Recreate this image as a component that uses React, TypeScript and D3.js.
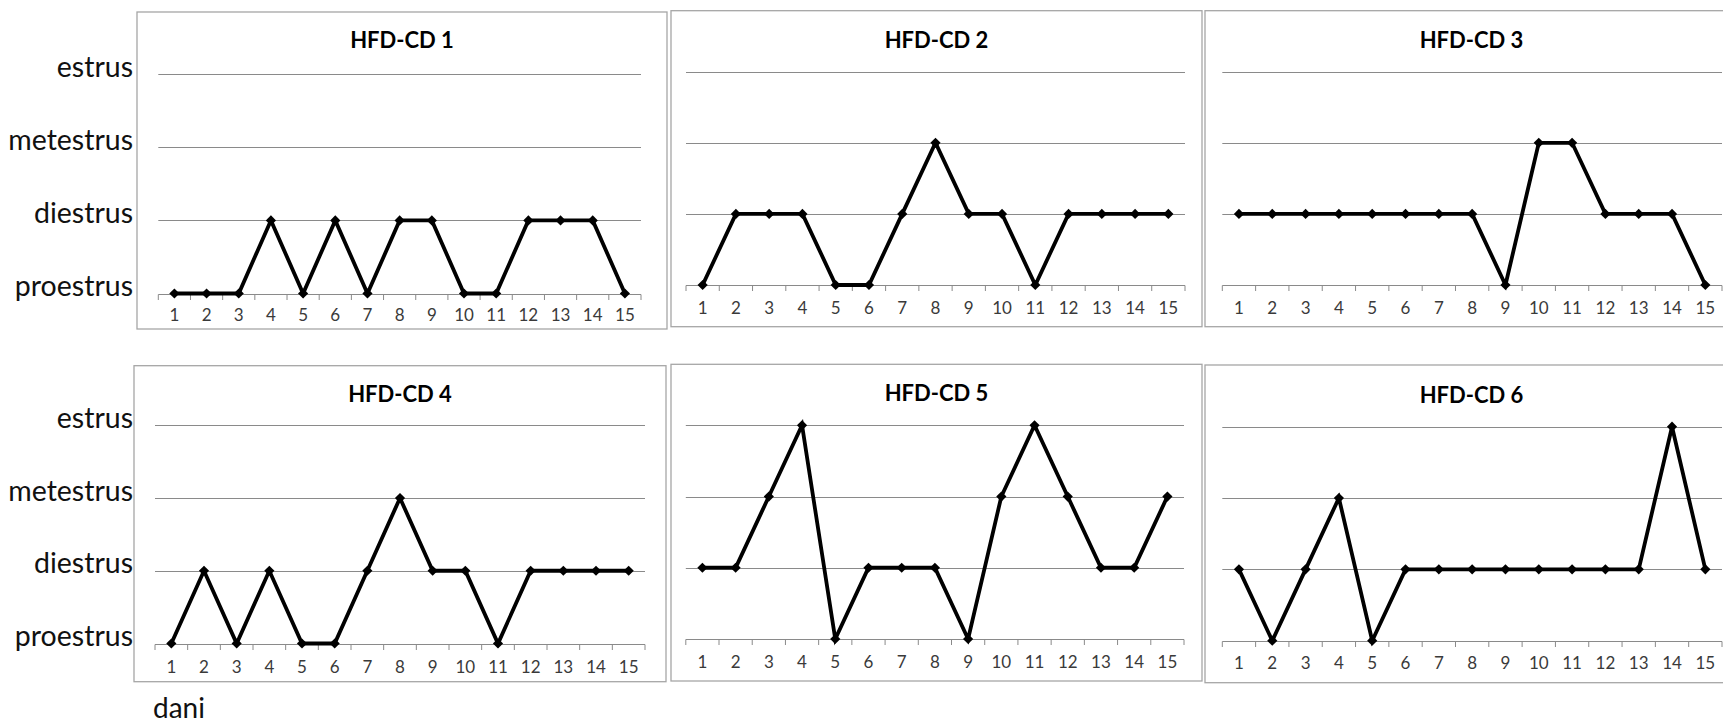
import React, { useEffect, useRef } from 'react';
import * as d3 from 'd3';

const WIDTH = 1723;
const HEIGHT = 725;

// estrous cycle stages, bottom to top
const stages = ['proestrus', 'diestrus', 'metestrus', 'estrus'];
const days = ['1', '2', '3', '4', '5', '6', '7', '8', '9', '10', '11', '12', '13', '14', '15'];
const titles = ['HFD-CD 1', 'HFD-CD 2', 'HFD-CD 3', 'HFD-CD 4', 'HFD-CD 5', 'HFD-CD 6'];

// stage index per day (0 proestrus, 1 diestrus, 2 metestrus, 3 estrus)
const hfdCd1 = [0, 0, 0, 1, 0, 1, 0, 1, 1, 0, 0, 1, 1, 1, 0];
const hfdCd2 = [0, 1, 1, 1, 0, 0, 1, 2, 1, 1, 0, 1, 1, 1, 1];
const hfdCd3 = [1, 1, 1, 1, 1, 1, 1, 1, 0, 2, 2, 1, 1, 1, 0];
const hfdCd4 = [0, 1, 0, 1, 0, 0, 1, 2, 1, 1, 0, 1, 1, 1, 1];
const hfdCd5 = [1, 1, 2, 3, 0, 1, 1, 1, 0, 2, 3, 2, 1, 1, 2];
const hfdCd6 = [1, 0, 1, 2, 0, 1, 1, 1, 1, 1, 1, 1, 1, 3, 1];

const series = [hfdCd1, hfdCd2, hfdCd3, hfdCd4, hfdCd5, hfdCd6];
const xLabel = 'dani';

// panel frames, as laid out in the figure
const PANELS = [
  { box: [137, 12, 667, 329], px: [158.3, 641], py: [74.3, 293.5], titleY: 48, tickY: 315, yLabels: true },
  { box: [671, 10.7, 1202, 326.7], px: [686, 1185], py: [71.7, 285], titleY: 48.3, tickY: 308.3, yLabels: false },
  { box: [1205, 10.7, 1738, 326.7], px: [1222.3, 1722], py: [71.7, 285], titleY: 48.3, tickY: 308.3, yLabels: false },
  { box: [134, 365.7, 666, 681.7], px: [155, 645], py: [425.3, 643.5], titleY: 401.7, tickY: 666.7, yLabels: true },
  { box: [671, 364.3, 1202, 681], px: [685.8, 1184], py: [425.3, 639], titleY: 400.7, tickY: 661.7, yLabels: false },
  { box: [1205, 365, 1738, 682.7], px: [1222.3, 1722], py: [426.7, 640.7], titleY: 402.7, tickY: 663.3, yLabels: false },
];

const FONT = 'Lato, "Open Sans", sans-serif';
const GRID = '#8a8a8a';

const App: React.FC = () => {
  const svgRef = useRef<SVGSVGElement>(null);

  useEffect(() => {
    if (!svgRef.current) return;
    const svg = d3.select(svgRef.current);
    svg.selectAll('*').remove();

    svg.append('rect').attr('width', WIDTH).attr('height', HEIGHT).attr('fill', '#fff');

    PANELS.forEach((p, i) => {
      const values = series[i];
      const [bx0, by0, bx1, by1] = p.box;
      const g = svg.append('g');

      // panel frame
      g.append('rect')
        .attr('x', bx0)
        .attr('y', by0)
        .attr('width', bx1 - bx0)
        .attr('height', by1 - by0)
        .attr('fill', '#fff')
        .attr('stroke', '#a6a6a6')
        .attr('stroke-width', 1.3);

      const x = d3.scaleBand<string>().domain(days).range(p.px);
      const y = d3.scaleLinear().domain([0, stages.length - 1]).range([p.py[1], p.py[0]]);

      // gridlines (the bottom one is the axis line)
      stages.forEach((s, k) => {
        g.append('line')
          .attr('x1', p.px[0])
          .attr('x2', p.px[1])
          .attr('y1', Math.round(y(k)) + 0.5)
          .attr('y2', Math.round(y(k)) + 0.5)
          .attr('stroke', GRID)
          .attr('stroke-width', 1);
      });

      // tick marks between categories
      const bounds = days.map(d => x(d)!).concat([p.px[1]]);
      bounds.forEach(bx => {
        g.append('line')
          .attr('x1', bx)
          .attr('x2', bx)
          .attr('y1', Math.round(y(0)) + 0.5)
          .attr('y2', Math.round(y(0)) + 6)
          .attr('stroke', GRID)
          .attr('stroke-width', 1);
      });

      // day labels
      const axis = d3.axisBottom(x).tickSize(0).tickPadding(0);
      const ax = g.append('g')
        .attr('transform', `translate(0, ${p.tickY})`)
        .call(axis);
      ax.select('.domain').remove();
      ax.selectAll('text')
        .attr('y', 0)
        .attr('dy', '0.36em')
        .attr('fill', '#3a3a3a')
        .style('font-family', FONT)
        .style('font-size', '17px');

      // title
      g.append('text')
        .attr('x', (bx0 + bx1) / 2)
        .attr('y', p.titleY)
        .attr('text-anchor', 'middle')
        .attr('fill', '#000')
        .style('font-family', FONT)
        .style('font-weight', 'bold')
        .style('font-size', '22px')
        .text(titles[i]);

      // stage labels outside the left panels
      if (p.yLabels) {
        stages.forEach((s, k) => {
          svg.append('text')
            .attr('x', 133)
            .attr('y', y(k) + 2.5)
            .attr('text-anchor', 'end')
            .attr('fill', '#111')
            .style('font-family', FONT)
            .style('font-size', '28.5px')
            .text(s);
        });
      }

      const cx = (d: string) => x(d)! + x.bandwidth() / 2;
      const line = d3.line<number>()
        .x((_, j) => cx(days[j]))
        .y(v => y(v));

      g.append('path')
        .datum(values)
        .attr('d', line)
        .attr('fill', 'none')
        .attr('stroke', '#000')
        .attr('stroke-width', 3.8)
        .attr('stroke-linejoin', 'miter');

      const marker = d3.symbol().type(d3.symbolSquare).size(52);
      g.selectAll('path.pt')
        .data(values)
        .join('path')
        .attr('class', 'pt')
        .attr('d', marker)
        .attr('transform', (v, j) => `translate(${cx(days[j])}, ${y(v)}) rotate(45)`)
        .attr('fill', '#000');
    });

    svg.append('text')
      .attr('x', 153)
      .attr('y', 718)
      .attr('fill', '#111')
      .style('font-family', FONT)
      .style('font-size', '28px')
      .text(xLabel);
  }, []);

  return (
    <svg
      ref={svgRef}
      width={WIDTH}
      height={HEIGHT}
      style={{ position: 'absolute', left: 0, top: 0, display: 'block' }}
    />
  );
};

export default App;
